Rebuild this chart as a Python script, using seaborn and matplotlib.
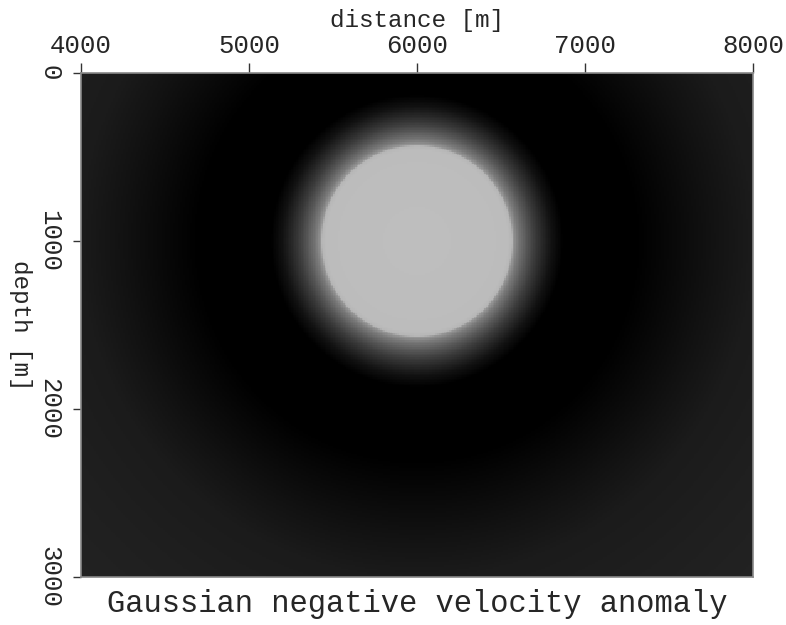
import numpy as np
import matplotlib
matplotlib.use("Agg")
import matplotlib.pyplot as plt
import seaborn as sns

# ---- data ----
x_tick_values = [4000, 5000, 6000, 7000, 8000]      # distance [m]
z_tick_values = [0, 1000, 2000, 3000]               # depth [m]
anomaly_center_x = 6000
anomaly_center_z = 1000
# radial gray-level profile of the displayed field (0 = black, 255 = white)
profile_radius = [0, 540, 565, 575, 600, 650, 700, 750, 800, 870, 1300, 1500, 1750, 2000, 2400, 2900]
profile_gray = [190, 188, 182, 150, 122, 88, 60, 38, 18, 0, 0, 8, 18, 27, 31, 35]
x_label = "distance [m]"
z_label = "depth [m]"
title = "Gaussian negative velocity anomaly"

# ---- model grid ----
dx = 10
x_min, x_max = x_tick_values[0], x_tick_values[-1]
z_min, z_max = z_tick_values[0], z_tick_values[-1]
xs = np.arange(x_min + dx / 2, x_max, dx)
zs = np.arange(z_min + dx / 2, z_max, dx)
X, Z = np.meshgrid(xs, zs)
R = np.hypot(X - anomaly_center_x, Z - anomaly_center_z)
field = np.interp(R, profile_radius, profile_gray)

sns.set_style("white")
plt.rcParams["font.family"] = ["Liberation Mono", "DejaVu Sans Mono"]

W, H = 786, 625
fig = plt.figure(figsize=(W / 100, H / 100), dpi=100)
left, right, top, bottom = 81, 753, 73, 577
ax = fig.add_axes([left / W, 1 - bottom / H, (right - left) / W, (bottom - top) / H])

sns.heatmap(field, cmap="gray", vmin=0, vmax=255, cbar=False,
            xticklabels=False, yticklabels=False, ax=ax, rasterized=True)

nx, nz = len(xs), len(zs)
ax.set_xticks([(v - x_min) / dx for v in x_tick_values])
ax.set_xticklabels([str(v) for v in x_tick_values], fontsize=18.5)
ax.set_yticks([(v - z_min) / dx for v in z_tick_values])
ax.set_yticklabels([str(v) for v in z_tick_values], fontsize=18.5,
                   rotation=-90, va="center", ha="right")
ax.xaxis.tick_top()
ax.xaxis.set_label_position("top")
ax.tick_params(axis="x", which="both", top=True, bottom=False, direction="out",
               length=7, width=1, color="#333333", pad=4)
ax.tick_params(axis="y", which="both", left=True, right=False, direction="out",
               length=6, width=1, color="#333333", pad=8)
for s in ax.spines.values():
    s.set_visible(True)
    s.set_color("#888888")
    s.set_linewidth(1.2)

ax.set_xlabel(x_label, fontsize=17.5, labelpad=5)
ax.set_ylabel(z_label, fontsize=17.5, rotation=-90, labelpad=12, va="center")

fig.text((left + right) / 2 / W, 1 - 612 / H, title, ha="center", va="baseline",
         fontsize=22)

fig.savefig("out.png", dpi=100)
